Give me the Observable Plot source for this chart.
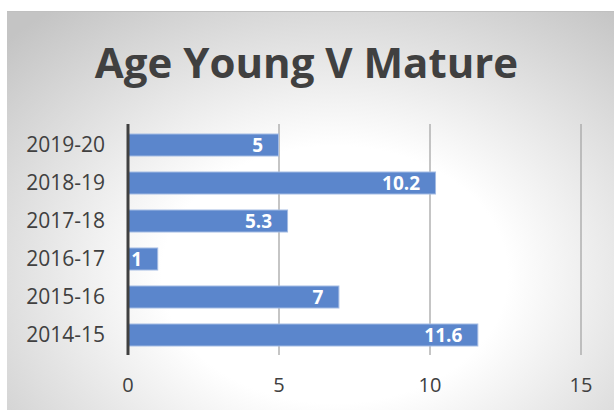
<!DOCTYPE html>
<html><head><meta charset="utf-8">
<script src="https://cdn.jsdelivr.net/npm/d3@7"></script>
<script src="https://cdn.jsdelivr.net/npm/@observablehq/plot@0.6"></script>
<style>
html,body{margin:0;padding:0;background:#fff;width:614px;height:410px;overflow:hidden;}
#panel{position:absolute;left:7px;top:11px;width:607px;height:399px;
 background:radial-gradient(ellipse 75% 85% at 54% 66%, #ffffff 38%, #c4c4c4 100%);
 border-top:1px solid #c0c0c0;box-sizing:border-box;}
#title{position:absolute;left:-4px;width:607px;top:29px;text-align:center;
 font-family:"Open Sans",sans-serif;font-weight:700;font-size:42px;color:#404040;line-height:1;}
#chart{position:absolute;left:0;top:-1px;}
</style></head>
<body>
<div id="panel"><div id="title">Age Young V Mature</div><div id="chart"></div></div>
<script>
const seasons = ["2019-20","2018-19","2017-18","2016-17","2015-16","2014-15"];
const values = [5, 10.2, 5.3, 1, 7, 11.6];
const xTicks = [0, 5, 10, 15];
const data = seasons.map((s,i)=>({season:s, value:values[i]}));

const chart = Plot.plot({
  width: 607, height: 399,
  marginLeft: 120.5, marginRight: 33.5, marginTop: 113, marginBottom: 55,
  style: {background:"transparent", fontFamily:"'Open Sans',sans-serif", fontSize:"20px", color:"#404040"},
  x: {domain:[0,15], ticks: xTicks, label:null},
  y: {domain: seasons, paddingInner: 0.43, paddingOuter: 0.215, label:null},
  marks: [
    Plot.ruleX(xTicks.filter(d=>d>0), {stroke:"#a6a6a6", strokeWidth:1.3}),
    Plot.barX(data, {y:"season", x:"value", fill:"#5b86cc", stroke:"#a3bbe3", strokeWidth:1}),
    Plot.text(data, {y:"season", x:"value", text:d=>String(d.value), textAnchor:"end", dx:-16, fill:"white", fontWeight:"bold", fontSize:19}),
    Plot.ruleX([0], {stroke:"#404040", strokeWidth:3}),
    Plot.axisY({tickSize:0, tickPadding:23, fontSize:21}),
    Plot.axisX({ticks:xTicks, tickSize:0, tickPadding:22, fontSize:20})
  ]
});
document.getElementById("chart").appendChild(chart);
</script>
</body></html>
